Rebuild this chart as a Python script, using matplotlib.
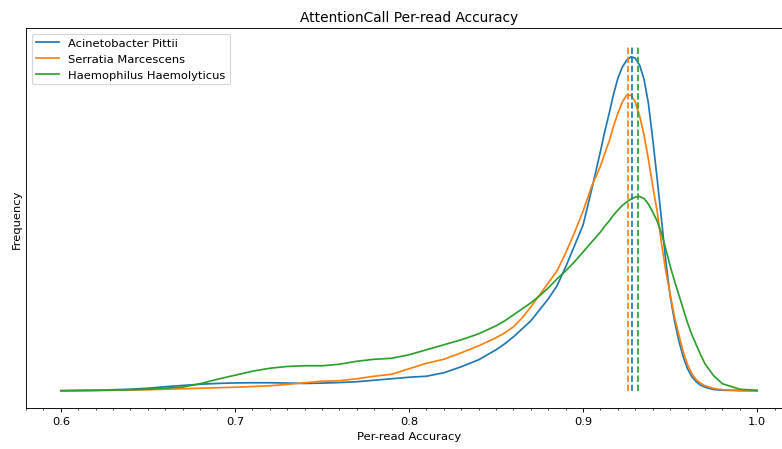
import matplotlib
matplotlib.use("Agg")
import matplotlib.pyplot as plt
from matplotlib.ticker import MultipleLocator

# accuracy grid and density curves (arbitrary units)
accuracy = [0.60, 0.62, 0.64, 0.65, 0.66, 0.67, 0.68, 0.69, 0.70, 0.71, 0.72, 0.73,
            0.74, 0.75, 0.76, 0.77, 0.78, 0.79, 0.80, 0.81, 0.82, 0.83, 0.84, 0.85,
            0.855, 0.86, 0.865, 0.87, 0.875, 0.88, 0.885, 0.89, 0.895, 0.90, 0.905, 0.91,
            0.9125, 0.915, 0.9175, 0.92, 0.9225, 0.925, 0.9275, 0.93, 0.9325, 0.935,
            0.9375, 0.94, 0.9425, 0.945, 0.9475, 0.95, 0.9525, 0.955, 0.9575, 0.96,
            0.9625, 0.965, 0.9675, 0.97,
            0.975, 0.98, 0.99, 1.00]

acinetobacter = [0.0, 0.05, 0.15, 0.25, 0.4, 0.53, 0.65, 0.73, 0.78, 0.8, 0.8, 0.77,
                 0.73, 0.76, 0.82, 0.9, 1.05, 1.2, 1.35, 1.45, 1.8, 2.4, 3.1, 4.1,
                 4.7, 5.4, 6.2, 7.0, 8.1, 9.2, 10.5, 12.4, 14.5, 16.6, 20.2, 24.0,
                 26.0, 27.8, 29.7, 31.3, 32.4, 33.1, 33.45, 33.3, 32.6, 31.2,
                 28.8, 25.2, 21.3, 17.2, 13.0, 9.5, 7.0, 5.0, 3.4, 2.2,
                 1.4, 0.9, 0.55, 0.35,
                 0.12, 0.05, 0.01, 0.0]

serratia = [0.0, 0.03, 0.07, 0.1, 0.15, 0.2, 0.25, 0.3, 0.35, 0.42, 0.5, 0.63,
            0.8, 0.95, 1.0, 1.2, 1.45, 1.65, 2.2, 2.75, 3.15, 3.8, 4.5, 5.3,
            5.8, 6.4, 7.3, 8.4, 9.6, 10.8, 12.0, 13.8, 15.8, 18.0, 20.5, 22.5,
            23.8, 25.0, 26.5, 27.8, 28.9, 29.6, 29.6, 28.9, 27.5, 25.6,
            23.2, 20.5, 18.0, 14.8, 12.0, 9.7, 7.4, 5.6, 3.9, 2.6,
            1.7, 1.1, 0.75, 0.5,
            0.23, 0.1, 0.03, 0.0]

haemophilus = [0.0, 0.03, 0.1, 0.15, 0.25, 0.37, 0.7, 1.15, 1.55, 1.95, 2.25, 2.43,
               2.5, 2.5, 2.65, 2.95, 3.15, 3.25, 3.6, 4.1, 4.6, 5.1, 5.7, 6.5,
               7.0, 7.6, 8.2, 8.8, 9.5, 10.3, 11.2, 12.0, 12.9, 13.9, 14.9, 15.9,
               16.5, 17.0, 17.6, 18.1, 18.55, 18.9, 19.2, 19.4, 19.45, 19.25,
               18.7, 17.9, 17.0, 15.8, 14.2, 12.5, 11.0, 9.6, 8.2, 6.8,
               5.6, 4.6, 3.6, 2.7,
               1.5, 0.7, 0.15, 0.03]

series = [
    ("Acinetobacter Pittii", acinetobacter, "tab:blue"),
    ("Serratia Marcescens", serratia, "tab:orange"),
    ("Haemophilus Haemolyticus", haemophilus, "tab:green"),
]
medians = [0.928, 0.9257, 0.9318]
median_line_top = 34.6

# drawn at a lower dpi so fonts and lines come out as small as in the reference
fig = plt.figure(figsize=(782 / 82.5, 450 / 82.5), dpi=82.5)
ax = fig.add_axes([26 / 782, 41 / 450, 766 / 782, 380 / 450])

for label, values, color in series:
    ax.plot(accuracy, values, color=color, linewidth=1.5, label=label)

for (label, values, color), median in zip(series, medians):
    ax.vlines(median, 0, median_line_top, colors=color, linestyles="dashed", linewidth=1.5)

ax.set_xlim(0.58, 1.02)
ax.set_ylim(-0.05 * median_line_top, 1.05 * median_line_top)
ax.xaxis.set_major_locator(MultipleLocator(0.1))
ax.xaxis.set_minor_locator(MultipleLocator(0.01))
ax.set_yticks([])

ax.set_title("AttentionCall Per-read Accuracy")
ax.set_xlabel("Per-read Accuracy")
ax.set_ylabel("Frequency")
ax.legend(loc="upper left")

fig.savefig("out.png", dpi=82.5)
